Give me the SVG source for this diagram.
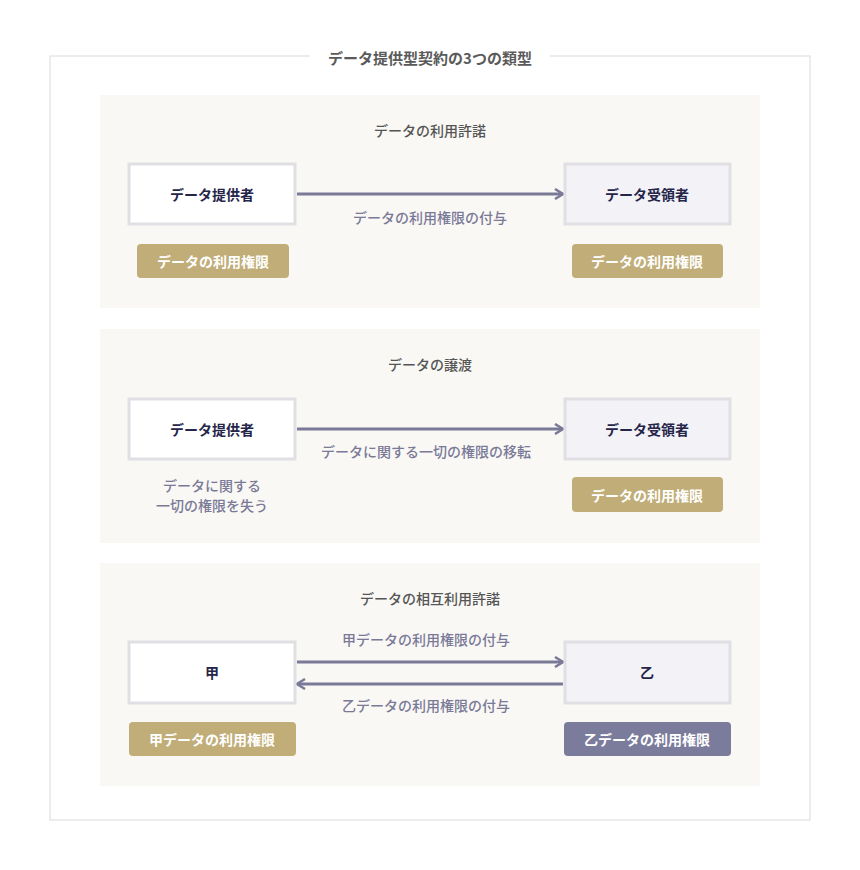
<svg xmlns="http://www.w3.org/2000/svg" width="860" height="870" viewBox="0 0 860 870">
<defs>
<marker id="ah" markerWidth="12" markerHeight="12" refX="10" refY="6" orient="auto" markerUnits="userSpaceOnUse"><path d="M2,1 L10,6 L2,11" fill="none" stroke="#7a7a98" stroke-width="2.5"/></marker>
<style>
text{font-family:"Noto Sans CJK JP","Noto Sans",sans-serif;text-anchor:middle;dominant-baseline:central}
.panel{fill:#f9f8f4}
.h{font-size:14px;fill:#555;font-weight:500}
.t{font-size:15px;fill:#5a5a5a;font-weight:bold}
.nl{fill:#fff;stroke:#e0e0e4;stroke-width:3}
.nr{fill:#f3f2f7;stroke:#e0e0e4;stroke-width:3}
.nt{font-size:14px;fill:#25254a;font-weight:bold}
.gold{fill:#c0ad78}
.pur{fill:#7b7b9c}
.bt{font-size:14px;fill:#fff;font-weight:bold}
.lbl{font-size:14px;fill:#7a7a98;font-weight:500}
.c{stroke:#7a7a98;stroke-width:3;fill:none;marker-end:url(#ah)}
</style>
</defs>
<rect width="860" height="870" fill="#fff"/>
<rect x="50" y="56" width="760" height="764" fill="none" stroke="#e6e6e6" stroke-width="1.5"/>
<rect x="310" y="46" width="240" height="22" fill="#fff"/>
<text x="430" y="57" class="t">データ提供型契約の3つの類型</text>
<rect class="panel" x="100" y="95" width="660" height="213"/>
<rect class="panel" x="100" y="329" width="660" height="214"/>
<rect class="panel" x="100" y="563" width="660" height="223"/>
<text class="h" x="430" y="130">データの利用許諾</text>
<text class="h" x="430" y="364">データの譲渡</text>
<text class="h" x="430" y="598">データの相互利用許諾</text>
<g id="connectors">
<line class="c" x1="297" y1="194" x2="563" y2="194"/>
<line class="c" x1="297" y1="429" x2="563" y2="429"/>
<line class="c" x1="297" y1="662" x2="563" y2="662"/>
<line class="c" x1="563" y1="684" x2="297" y2="684"/>
<text class="lbl" x="430" y="217">データの利用権限の付与</text>
<text class="lbl" x="426" y="451">データに関する一切の権限の移転</text>
<text class="lbl" x="426" y="639">甲データの利用権限の付与</text>
<text class="lbl" x="426" y="705">乙データの利用権限の付与</text>
</g>
<g id="p1-provider"><rect class="nl" x="129" y="164" width="166" height="60"/><text class="nt" x="212" y="194">データ提供者</text></g>
<g id="p1-receiver"><rect class="nr" x="565" y="164" width="165" height="60"/><text class="nt" x="647" y="194">データ受領者</text></g>
<g id="p1-b1"><rect class="gold" x="137" y="244" width="152" height="34" rx="4"/><text class="bt" x="213" y="261">データの利用権限</text></g>
<g id="p1-b2"><rect class="gold" x="572" y="244" width="151" height="34" rx="4"/><text class="bt" x="647" y="261">データの利用権限</text></g>
<g id="p2-provider"><rect class="nl" x="129" y="399" width="166" height="60"/><text class="nt" x="212" y="429">データ提供者</text></g>
<g id="p2-receiver"><rect class="nr" x="565" y="399" width="165" height="60"/><text class="nt" x="647" y="429">データ受領者</text></g>
<g id="p2-lose"><text class="lbl" x="212" y="485">データに関する</text><text class="lbl" x="212" y="505">一切の権限を失う</text></g>
<g id="p2-b2"><rect class="gold" x="572" y="477" width="151" height="35" rx="4"/><text class="bt" x="647" y="495">データの利用権限</text></g>
<g id="p3-a"><rect class="nl" x="129" y="642" width="166" height="61"/><text class="nt" x="212" y="672">甲</text></g>
<g id="p3-b"><rect class="nr" x="565" y="642" width="165" height="61"/><text class="nt" x="647" y="672">乙</text></g>
<g id="p3-ba"><rect class="gold" x="129" y="722" width="167" height="34" rx="4"/><text class="bt" x="212" y="739">甲データの利用権限</text></g>
<g id="p3-bb"><rect class="pur" x="564" y="722" width="167" height="34" rx="4"/><text class="bt" x="647" y="739">乙データの利用権限</text></g>
</svg>
